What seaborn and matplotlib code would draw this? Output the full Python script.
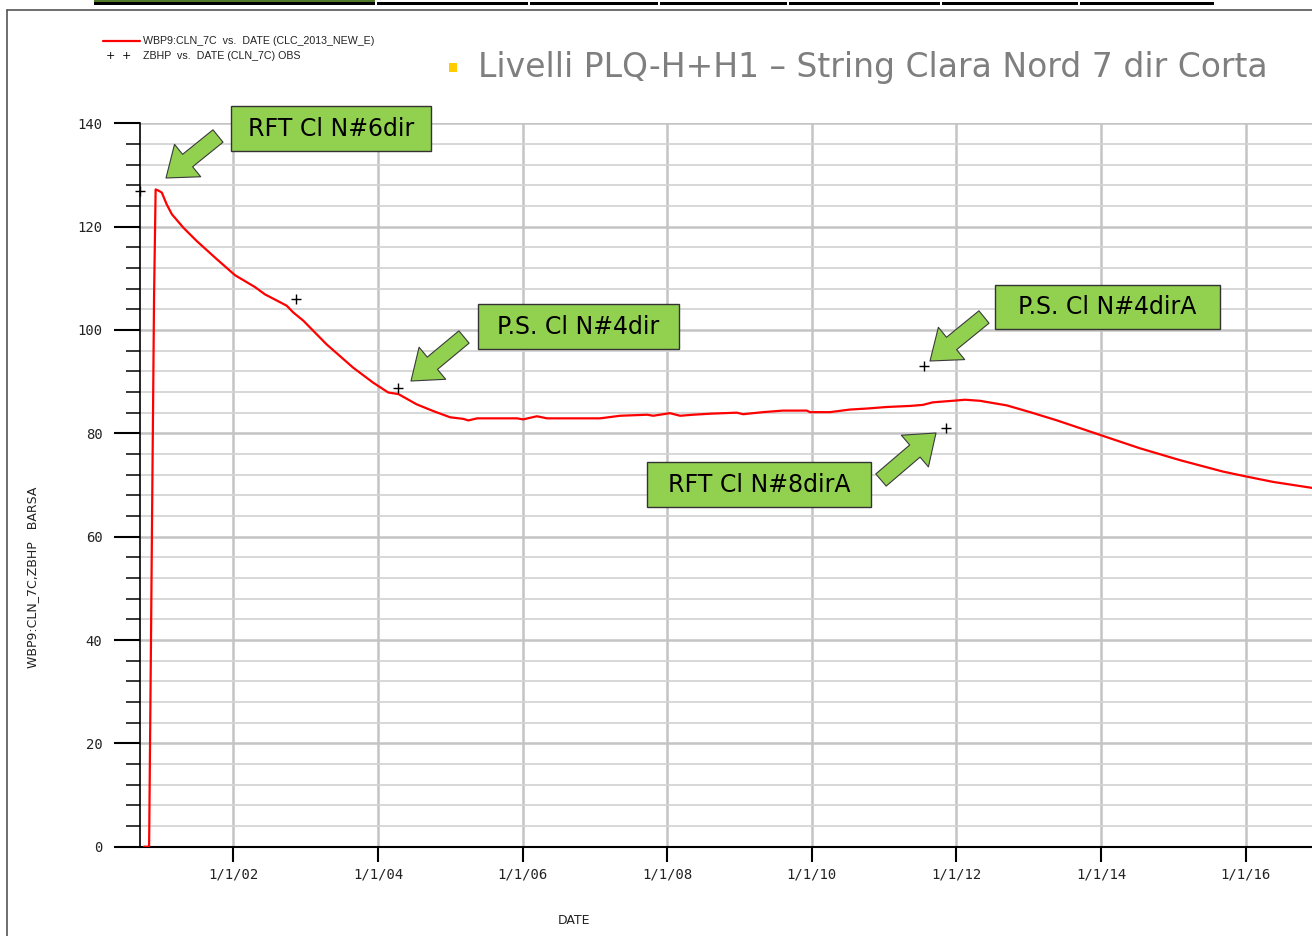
import numpy as np
import pandas as pd
import matplotlib
matplotlib.use("Agg")
import matplotlib.pyplot as plt
import matplotlib.dates as mdates
from matplotlib.patches import Rectangle, FancyArrowPatch, ArrowStyle
from matplotlib.lines import Line2D
from matplotlib.ticker import MultipleLocator, FuncFormatter
import seaborn as sns

# ---------------- data ----------------
sim_dates = ["2000-10-07", "2000-11-01", "2000-11-06", "2000-11-11", "2000-11-16", "2000-11-21",
             "2000-11-26", "2000-12-04", "2000-12-17", "2001-01-04", "2001-01-29", "2001-02-24",
             "2001-04-23", "2001-06-30", "2001-10-09", "2002-01-09", "2002-04-20", "2002-06-09",
             "2002-09-27", "2002-10-30", "2002-12-20", "2003-04-17", "2003-08-29", "2003-12-08",
             "2004-02-22", "2004-04-13", "2004-07-15", "2004-10-07", "2004-12-31", "2005-03-07",
             "2005-04-01", "2005-05-16", "2005-12-04", "2006-01-03", "2006-03-14", "2006-05-04",
             "2007-01-27", "2007-05-08", "2007-09-22", "2007-10-22", "2008-01-15", "2008-03-06",
             "2008-05-11", "2008-08-05", "2008-12-18", "2009-01-18", "2009-04-29", "2009-08-08",
             "2009-12-06", "2009-12-22", "2010-04-02", "2010-07-12", "2010-10-06", "2011-01-15",
             "2011-05-11", "2011-07-15", "2011-09-04", "2011-12-14", "2012-02-13", "2012-04-28",
             "2012-09-12", "2013-01-07", "2013-05-23", "2013-12-26", "2014-07-16", "2015-02-04",
             "2015-09-08", "2015-12-28", "2016-05-18", "2016-11-21", "2017-01-10"]
sim_bhp = [0.0, 0.0, 21.0, 42.0, 64.0, 85.0,
           106.5, 127.2, 127.0, 126.6, 124.3, 122.4,
           119.8, 117.2, 113.7, 110.6, 108.3, 106.9,
           104.7, 103.4, 101.8, 97.2, 92.7, 89.8,
           87.9, 87.6, 85.6, 84.3, 83.1, 82.8,
           82.5, 82.9, 82.9, 82.7, 83.3, 82.9,
           82.9, 83.4, 83.6, 83.4, 83.9, 83.4,
           83.6, 83.8, 84.0, 83.7, 84.1, 84.4,
           84.4, 84.1, 84.1, 84.6, 84.8, 85.1,
           85.3, 85.5, 86.0, 86.3, 86.5, 86.3,
           85.4, 84.1, 82.5, 79.7, 77.1, 74.8,
           72.6, 71.7, 70.6, 69.5, 69.2]

obs_dates = ["2000-09-17", "2002-11-12", "2004-04-10", "2011-07-22", "2011-11-08"]
obs_bhp = [126.9, 105.9, 88.8, 93.0, 81.1]

y_ticks = [0, 20, 40, 60, 80, 100, 120, 140]
legend_labels = ["WBP9:CLN_7C  vs.  DATE (CLC_2013_NEW_E)", "ZBHP  vs.  DATE (CLN_7C) OBS"]
title_text = "Livelli PLQ-H+H1 \u2013 String Clara Nord 7 dir Corta"
callouts = ["RFT Cl N#6dir", "P.S. Cl N#4dir", "P.S. Cl N#4dirA", "RFT Cl N#8dirA"]

sim = pd.DataFrame({"DATE": pd.to_datetime(sim_dates), "BHP": sim_bhp})
obs = pd.DataFrame({"DATE": pd.to_datetime(obs_dates), "BHP": obs_bhp})

# ---------------- figure ----------------
sns.set_theme(style="white")
plt.rcParams["font.family"] = ["DejaVu Sans"]

W, H = 1312, 936
fig = plt.figure(figsize=(W / 100, H / 100), dpi=100)
fig.patch.set_facecolor("white")

def fx(x):
    return x / W

def fy(y):
    return 1 - y / H

ax_l, ax_t, ax_b = 140, 123.3, 846.7
ax = fig.add_axes([fx(ax_l), fy(ax_b), fx(W - ax_l), (ax_b - ax_t) / H])
ax.set_facecolor("white")

sns.lineplot(data=sim, x="DATE", y="BHP", ax=ax, color="#FF0000", linewidth=1.6,
             estimator=None, sort=False, zorder=4)
sns.scatterplot(data=obs, x="DATE", y="BHP", ax=ax, marker="+", color="black", s=55,
                linewidth=1.0, zorder=5, clip_on=False)

ax.set_xlim(pd.Timestamp("2000-09-16"), pd.Timestamp("2016-12-01"))
ax.set_ylim(0, 140)

ax.xaxis.set_major_locator(mdates.YearLocator(2))
ax.xaxis.set_major_formatter(FuncFormatter(
    lambda v, p: (lambda d: f"{d.month}/{d.day}/{d.strftime('%y')}")(mdates.num2date(v))))
ax.yaxis.set_major_locator(MultipleLocator(20))
ax.yaxis.set_minor_locator(MultipleLocator(4))

ax.grid(False)
ax.grid(axis="y", which="minor", color="#D4D4D4", linewidth=1.3, zorder=0)
ax.grid(axis="y", which="major", color="#C4C4C4", linewidth=1.8, zorder=0)
ax.grid(axis="x", which="major", color="#C4C4C4", linewidth=1.8, zorder=0)
ax.set_axisbelow(True)

for s in ["top", "right"]:
    ax.spines[s].set_visible(False)
ax.spines["left"].set_color("black")
ax.spines["left"].set_linewidth(1.2)
ax.spines["bottom"].set_color("black")
ax.spines["bottom"].set_linewidth(1.5)

ax.tick_params(axis="y", which="major", direction="out", length=19, width=1.5,
               color="black", labelsize=10, pad=8, labelcolor="#222222", left=True)
ax.tick_params(axis="y", which="minor", direction="out", length=10, width=1.1,
               color="black", left=True)
ax.tick_params(axis="x", which="major", direction="out", length=11, width=1.5,
               color="black", labelsize=10, pad=4, labelcolor="#222222", bottom=True)
ax.set_yticks(y_ticks)
for lab in ax.get_xticklabels() + ax.get_yticklabels():
    lab.set_fontfamily("DejaVu Sans Mono")
ax.set_xlabel("")
ax.set_ylabel("")

fig.text(fx(33), fy(577), "WBP9:CLN_7C,ZBHP   BARSA", rotation=90, ha="center", va="center",
         fontsize=9, color="#222222")
fig.text(fx(574), fy(920), "DATE", ha="center", va="center", fontsize=9, color="#222222")

# ---------------- legend (top-left) ----------------
fig.add_artist(Line2D([fx(103), fx(140)], [fy(41), fy(41)], color="#FF0000", linewidth=1.6))
fig.text(fx(143), fy(41), legend_labels[0], ha="left", va="center", fontsize=7.7,
         family="Liberation Sans", color="#222222")
fig.text(fx(110), fy(56), "+", ha="center", va="center", fontsize=8, color="black")
fig.text(fx(126), fy(56), "+", ha="center", va="center", fontsize=8, color="black")
fig.text(fx(143), fy(56), legend_labels[1], ha="left", va="center", fontsize=7.7,
         family="Liberation Sans", color="#222222")

# ---------------- slide decorations ----------------
# frame
fig.add_artist(Line2D([fx(7), fx(W)], [fy(10), fy(10)], color="#555555", linewidth=1.2))
fig.add_artist(Line2D([fx(7), fx(7)], [fy(10), fy(H)], color="#555555", linewidth=1.2))
# top navigation bar
seps = [93, 376, 529, 659, 788, 941, 1079, 1215]
for i in range(len(seps) - 1):
    x0, x1 = seps[i], seps[i + 1]
    fc = "#4E7A2A" if i == 0 else "white"
    fig.add_artist(Rectangle((fx(x0 + 1), fy(5)), fx(x1 - x0 - 2), 5 / H,
                             facecolor=fc, edgecolor="none", transform=fig.transFigure))
    fig.add_artist(Rectangle((fx(x0 + 1), fy(5)), fx(x1 - x0 - 2), 3.5 / H,
                             facecolor="black", edgecolor="none", transform=fig.transFigure))

# title
fig.add_artist(Rectangle((fx(449), fy(72)), fx(8), 9 / H, facecolor="#FFCC00",
                         edgecolor="none", transform=fig.transFigure))
fig.text(fx(478), fy(68), title_text, ha="left", va="center", fontsize=23.8,
         color="#7F7F7F")

# ---------------- callout boxes and arrows ----------------
boxes = [(231, 106, 431, 151), (478, 304, 679, 349), (995, 285, 1220, 329), (647, 462, 871, 507)]
arrows = [((218, 136), (166, 178)), ((464, 337), (411, 381)),
          ((984, 317), (930, 361)), ((881, 480), (936, 433))]
green = "#92D050"
for (x0, y0, x1, y1), txt in zip(boxes, callouts):
    fig.add_artist(Rectangle((fx(x0), fy(y1)), fx(x1 - x0), (y1 - y0) / H,
                             facecolor=green, edgecolor="#333333", linewidth=1.0,
                             transform=fig.transFigure, zorder=10))
    fig.text(fx((x0 + x1) / 2), fy((y0 + y1) / 2), txt, ha="center", va="center",
             fontsize=17, color="black", zorder=11)

style = ArrowStyle("Simple", head_length=2.0, head_width=3.0, tail_width=1.15)
for (a, b) in arrows:
    fig.add_artist(FancyArrowPatch((fx(a[0]), fy(a[1])), (fx(b[0]), fy(b[1])),
                                   transform=fig.transFigure, arrowstyle=style,
                                   mutation_scale=10, shrinkA=0, shrinkB=0,
                                   facecolor=green, edgecolor="#3A3A3A", linewidth=0.8,
                                   zorder=12))

fig.savefig("out.png", dpi=100, facecolor="white")
